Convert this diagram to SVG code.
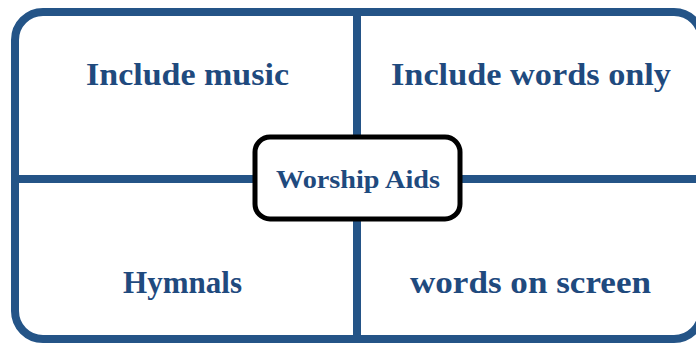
<svg xmlns="http://www.w3.org/2000/svg" width="696" height="343" viewBox="0 0 696 343">
<style>
.frame{fill:#fff;stroke:#245487;stroke-width:8}
.div{stroke:#245487;stroke-width:8;fill:none}
.lbl{font-family:"Liberation Serif","Times New Roman",serif;font-weight:bold;fill:#1f4a7e;text-anchor:middle}
.big{font-size:32px}
.center{fill:#fff;stroke:#000;stroke-width:5}
</style>
<rect width="696" height="343" fill="#fff"/>
<g id="frame">
<rect class="frame" x="15" y="12" width="687" height="327" rx="28"/>
</g>
<g id="connectors">
<line class="div" x1="357" y1="12" x2="357" y2="339"/>
<line class="div" x1="15" y1="179" x2="702" y2="179"/>
</g>
<g id="q1"><text class="lbl big" x="187.5" y="85" textLength="203" lengthAdjust="spacingAndGlyphs">Include music</text></g>
<g id="q2"><text class="lbl big" x="531" y="85" textLength="280" lengthAdjust="spacingAndGlyphs">Include words only</text></g>
<g id="q3"><text class="lbl big" x="182.5" y="293" textLength="119" lengthAdjust="spacingAndGlyphs">Hymnals</text></g>
<g id="q4"><text class="lbl big" x="530.5" y="293" textLength="241" lengthAdjust="spacingAndGlyphs">words on screen</text></g>
<g id="center">
<rect class="center" x="255" y="137" width="205" height="82" rx="15"/>
<text class="lbl" x="358" y="188" font-size="26" textLength="164" lengthAdjust="spacingAndGlyphs">Worship Aids</text>
</g>
</svg>
